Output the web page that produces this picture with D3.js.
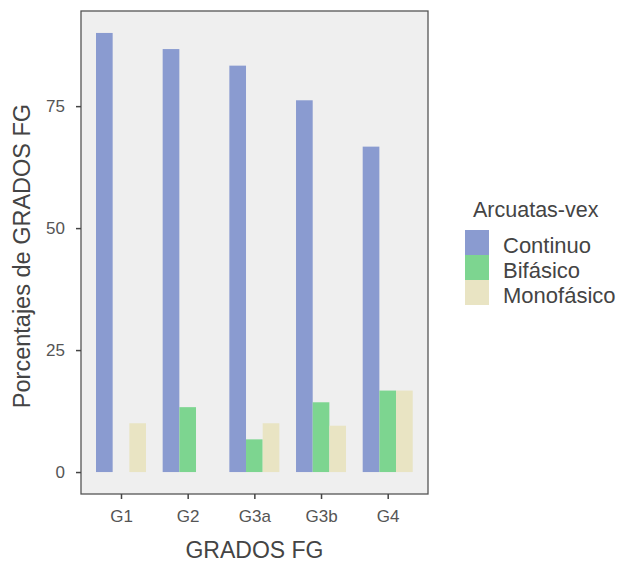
<!DOCTYPE html>
<html><head><meta charset="utf-8">
<script src="https://cdn.jsdelivr.net/npm/d3@7"></script>
<style>body{margin:0;background:#fff}svg{display:block}</style>
</head><body>
<svg id="c" width="626" height="563"></svg>
<script>
const categories = ["G1","G2","G3a","G3b","G4"];
const seriesNames = ["Continuo","Bifásico","Monofásico"];
const continuo = [90, 86.7, 83.3, 76.2, 66.7];
const bifasico = [0, 13.3, 6.7, 14.3, 16.7];
const monofasico = [10, 0, 10, 9.5, 16.7];
const yTicks = [0, 25, 50, 75];
const colors = ["#8a9bd0", "#7dd590", "#e9e4c3"];

const series = [continuo, bifasico, monofasico];
const svg = d3.select("#c");
const L = 81, R = 428, T = 11, B = 494;
const font = "Liberation Sans, Arial, sans-serif";

const y = d3.scaleLinear().domain([-4.5, 94.5]).range([B, T]);
const x = d3.scalePoint().domain(categories).range([121, 387.7]);
const step = x.step();
const groupW = step * 0.75;
const xs = d3.scaleBand().domain(seriesNames).range([-groupW/2, groupW/2]);

svg.append("rect").attr("x", L).attr("y", T).attr("width", R-L).attr("height", B-T)
  .attr("fill", "#efefef");

categories.forEach((c, i) => {
  series.forEach((s, j) => {
    if (s[i] <= 0) return;
    svg.append("rect")
      .attr("x", x(c) + xs(seriesNames[j]))
      .attr("width", xs.bandwidth())
      .attr("y", y(s[i]))
      .attr("height", y(0) - y(s[i]))
      .attr("fill", colors[j]);
  });
});

svg.append("rect").attr("x", L).attr("y", T).attr("width", R-L).attr("height", B-T)
  .attr("fill", "none").attr("stroke", "#555").attr("stroke-width", 1.3);

const yAxis = svg.append("g").attr("transform", `translate(${L},0)`)
  .call(d3.axisLeft(y).tickValues(yTicks).tickSize(5).tickPadding(11));
yAxis.select(".domain").remove();
yAxis.selectAll(".tick line").attr("stroke", "#444").attr("stroke-width", 1.5);
yAxis.selectAll(".tick text").attr("font-family", font).attr("font-size", 17).attr("fill", "#555");

const xAxis = svg.append("g").attr("transform", `translate(0,${B})`)
  .call(d3.axisBottom(x).tickSize(5).tickPadding(11));
xAxis.select(".domain").remove();
xAxis.selectAll(".tick line").attr("stroke", "#444").attr("stroke-width", 1.5);
xAxis.selectAll(".tick text").attr("font-family", font).attr("font-size", 17).attr("fill", "#555");

svg.append("text").attr("x", (L+R)/2).attr("y", 558).attr("text-anchor", "middle")
  .attr("font-family", font).attr("font-size", 23).attr("fill", "#444").text("GRADOS FG");
svg.append("text").attr("transform", `translate(30,${256}) rotate(-90)`)
  .attr("text-anchor", "middle").attr("font-family", font).attr("font-size", 23.5)
  .attr("fill", "#444").text("Porcentajes de GRADOS FG");

const lg = svg.append("g");
lg.append("text").attr("x", 473).attr("y", 217).attr("font-family", font).attr("font-size", 21.5)
  .attr("fill", "#444").text("Arcuatas-vex");
seriesNames.forEach((n, j) => {
  lg.append("rect").attr("x", 465).attr("y", 230 + j*25).attr("width", 24).attr("height", 25)
    .attr("fill", colors[j]);
  lg.append("text").attr("x", 503).attr("y", 230 + j*25 + 23).attr("font-family", font)
    .attr("font-size", 22).attr("fill", "#444").text(n);
});
</script>
</body></html>
